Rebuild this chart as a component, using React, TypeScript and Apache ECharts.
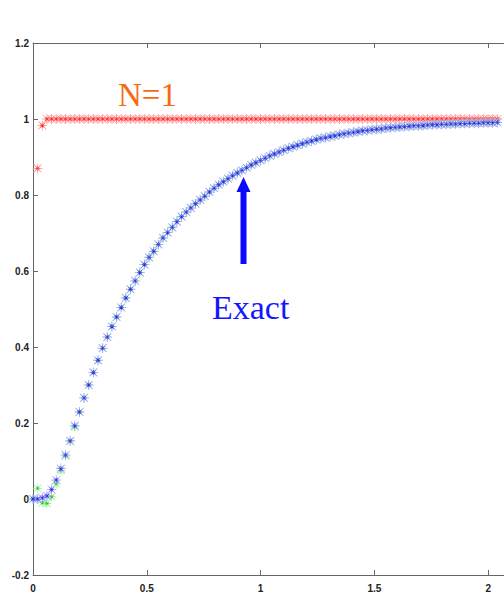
import React, { useEffect, useRef } from "react";
import * as echarts from "echarts";

// Sample spacing along x (all three series share the same grid).
const X_STEP = 0.0204;

// Exact solution (blue).
const EXACT = [
  0, 0, 0.003, 0.008, 0.025, 0.05, 0.08, 0.116, 0.153, 0.193,
  0.229, 0.266, 0.3, 0.333, 0.365, 0.397, 0.426, 0.454, 0.479, 0.504,
  0.529, 0.552, 0.574, 0.596, 0.617, 0.636, 0.652, 0.67, 0.687, 0.701,
  0.715, 0.73, 0.743, 0.755, 0.766, 0.777, 0.787, 0.797, 0.808, 0.818,
  0.827, 0.835, 0.843, 0.851, 0.858, 0.865, 0.872, 0.879, 0.885, 0.891,
  0.897, 0.903, 0.908, 0.913, 0.918, 0.923, 0.927, 0.931, 0.935, 0.939,
  0.942, 0.946, 0.949, 0.951, 0.954, 0.956, 0.959, 0.961, 0.963, 0.965,
  0.967, 0.969, 0.97, 0.972, 0.973, 0.974, 0.976, 0.977, 0.978, 0.979,
  0.98, 0.981, 0.982, 0.982, 0.983, 0.984, 0.985, 0.985, 0.986, 0.986,
  0.987, 0.987, 0.988, 0.988, 0.989, 0.989, 0.989, 0.99, 0.99, 0.99,
  0.991,
];

// Approximation (green), nearly on top of the exact values.
const APPROX = [
  0, 0.028, -0.01, -0.012, 0.006, 0.04, 0.075, 0.113, 0.152, 0.19,
  0.229, 0.266, 0.3, 0.333, 0.365, 0.397, 0.426, 0.454, 0.479, 0.504,
  0.529, 0.552, 0.574, 0.596, 0.617, 0.636, 0.652, 0.67, 0.687, 0.701,
  0.715, 0.73, 0.743, 0.755, 0.766, 0.777, 0.787, 0.797, 0.808, 0.818,
  0.827, 0.835, 0.843, 0.851, 0.858, 0.865, 0.872, 0.879, 0.885, 0.891,
  0.897, 0.903, 0.908, 0.913, 0.918, 0.923, 0.927, 0.931, 0.935, 0.939,
  0.942, 0.946, 0.949, 0.951, 0.954, 0.956, 0.959, 0.961, 0.963, 0.965,
  0.967, 0.969, 0.97, 0.972, 0.973, 0.974, 0.976, 0.977, 0.978, 0.979,
  0.98, 0.981, 0.982, 0.982, 0.983, 0.984, 0.985, 0.985, 0.986, 0.986,
  0.987, 0.987, 0.988, 0.988, 0.989, 0.989, 0.989, 0.99, 0.99, 0.99,
  0.991,
];

// N=1 (red); the first sample is not plotted.
const N1 = [
  null, 0.87, 0.983, 1, 1, 1, 1, 1, 1, 1,
  1, 1, 1, 1, 1, 1, 1, 1, 1, 1,
  1, 1, 1, 1, 1, 1, 1, 1, 1, 1,
  1, 1, 1, 1, 1, 1, 1, 1, 1, 1,
  1, 1, 1, 1, 1, 1, 1, 1, 1, 1,
  1, 1, 1, 1, 1, 1, 1, 1, 1, 1,
  1, 1, 1, 1, 1, 1, 1, 1, 1, 1,
  1, 1, 1, 1, 1, 1, 1, 1, 1, 1,
  1, 1, 1, 1, 1, 1, 1, 1, 1, 1,
  1, 1, 1, 1, 1, 1, 1, 1, 1, 1,
  1,
];

const X_MIN = 0;
const X_MAX = 2.5;
const X_INTERVAL = 0.5;
const Y_MIN = -0.2;
const Y_MAX = 1.2;
const Y_INTERVAL = 0.2;

// MATLAB-style '*' marker: horizontal, vertical and two diagonal bars.
const ASTERISK =
  "path://M0 9H20V11H0Z M9 0H11V20H9Z M1.3 2.7L2.7 1.3L18.7 17.3L17.3 18.7Z M17.3 1.3L18.7 2.7L2.7 18.7L1.3 17.3Z";

const toPoints = (ys: (number | null)[]) => {
  const pts: [number, number][] = [];
  ys.forEach((y, i) => {
    if (y !== null) pts.push([i * X_STEP, y]);
  });
  return pts;
};

// Each marker is a pale, wide asterisk with a small saturated one on top.
const starSeries = (
  data: [number, number][],
  halo: string,
  core: string,
  haloSize: number,
  coreSize: number
) => [
  {
    type: "scatter",
    data,
    symbol: ASTERISK,
    symbolSize: haloSize,
    itemStyle: { color: halo },
    silent: true,
  },
  {
    type: "scatter",
    data,
    symbol: ASTERISK,
    symbolSize: coreSize,
    itemStyle: { color: core },
    silent: true,
  },
];

const axisText = {
  fontFamily: "Liberation Sans",
  fontSize: 10,
  fontWeight: "bold",
  color: "#222",
};

const tickFormat = (v: number) => String(Math.round(v * 10) / 10);

export default function App() {
  const ref = useRef<HTMLDivElement>(null);

  useEffect(() => {
    const chart = echarts.init(ref.current!, null, { renderer: "svg" });
    const lineStyle = { color: "#666", width: 1 };
    chart.setOption({
      animation: false,
      backgroundColor: "#fff",
      grid: {
        left: 33,
        right: -98,
        top: 43,
        bottom: 19,
        containLabel: false,
        outerBoundsMode: "none",
      },
      xAxis: [
        {
          type: "value",
          position: "bottom",
          min: X_MIN,
          max: X_MAX,
          interval: X_INTERVAL,
          axisLine: { show: true, onZero: false, lineStyle },
          axisTick: { show: true, inside: true, length: 5, lineStyle },
          axisLabel: {
            ...axisText,
            margin: 8,
            showMaxLabel: false,
            formatter: tickFormat,
          },
          splitLine: { show: false },
        },
        {
          type: "value",
          position: "top",
          min: X_MIN,
          max: X_MAX,
          interval: X_INTERVAL,
          axisLine: { show: true, onZero: false, lineStyle },
          axisTick: { show: true, inside: true, length: 5, lineStyle },
          axisLabel: { show: false },
          splitLine: { show: false },
        },
      ],
      yAxis: {
        type: "value",
        min: Y_MIN,
        max: Y_MAX,
        interval: Y_INTERVAL,
        axisLine: { show: true, onZero: false, lineStyle },
        axisTick: { show: true, inside: true, length: 5, lineStyle },
        axisLabel: {
          ...axisText,
          margin: 4,
          formatter: tickFormat,
        },
        splitLine: { show: false },
      },
      series: [
        ...starSeries(toPoints(N1), "#ff9a9a", "#ff1010", 10, 5),
        ...starSeries(toPoints(APPROX), "#8cf08c", "#00b000", 9, 4),
        ...starSeries(toPoints(EXACT), "#a4a4ff", "#1010e6", 10, 5),
      ],
      graphic: [
        {
          type: "text",
          left: 118,
          top: 78,
          style: {
            text: "N=1",
            fill: "#f66a14",
            font: '33px "Liberation Serif"',
          },
        },
        {
          type: "text",
          left: 212,
          top: 290,
          style: {
            text: "Exact",
            fill: "#1515ff",
            font: '34px "Liberation Serif"',
          },
        },
        {
          type: "polygon",
          shape: {
            points: [
              [240.5, 264],
              [240.5, 192],
              [236.5, 192],
              [243.5, 177],
              [250.5, 192],
              [246.5, 192],
              [246.5, 264],
            ],
          },
          style: { fill: "#0a0aff" },
        },
      ],
    });
    return () => chart.dispose();
  }, []);

  return (
    <div
      ref={ref}
      style={{
        position: "absolute",
        left: 0,
        top: 0,
        width: 504,
        height: 594,
        overflow: "hidden",
        background: "#fff",
      }}
    />
  );
}
